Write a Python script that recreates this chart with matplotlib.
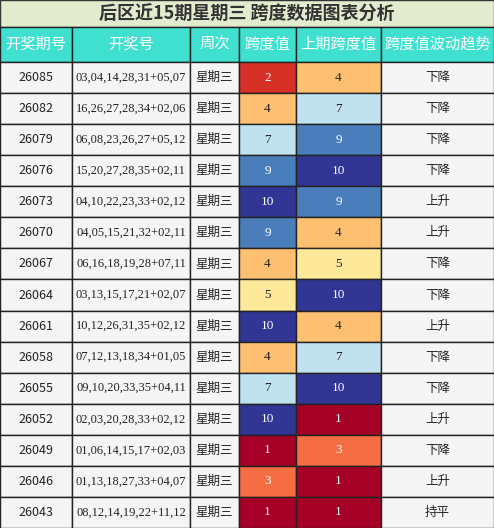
import matplotlib
matplotlib.use("Agg")
import matplotlib.pyplot as plt
from matplotlib.patches import Rectangle

plt.rcParams['font.family'] = ['Noto Sans CJK SC', 'DejaVu Sans']

periods = ["26085","26082","26079","26076","26073","26070","26067","26064","26061","26058","26055","26052","26049","26046","26043"]
draws = ["03,04,14,28,31+05,07","16,26,27,28,34+02,06","06,08,23,26,27+05,12","15,20,27,28,35+02,11",
         "04,10,22,23,33+02,12","04,05,15,21,32+02,11","06,16,18,19,28+07,11","03,13,15,17,21+02,07",
         "10,12,26,31,35+02,12","07,12,13,18,34+01,05","09,10,20,33,35+04,11","02,03,20,28,33+02,12",
         "01,06,14,15,17+02,03","01,13,18,27,33+04,07","08,12,14,19,22+11,12"]
weekday = ["星期三"] * 15
span = [2,4,7,9,10,9,4,5,10,4,7,10,1,3,1]
prev_span = [4,7,9,10,9,4,5,10,4,7,10,1,3,1,1]
trend = ["下降","下降","下降","下降","上升","上升","下降","下降","上升","下降","下降","上升","下降","上升","持平"]
headers = ["开奖期号","开奖号","周次","跨度值","上期跨度值","跨度值波动趋势"]
title = "后区近15期星期三 跨度数据图表分析"

cmap = {1:"#a50026",2:"#d73027",3:"#f46d43",4:"#fdc070",5:"#fee99a",7:"#c0e2ee",9:"#4a7ebb",10:"#313695"}
dark = {1,2,3,9,10}

W, H = 494, 528
fig = plt.figure(figsize=(W/100, H/100), dpi=100)
ax = fig.add_axes([0,0,1,1])
ax.set_xlim(0, W); ax.set_ylim(H, 0); ax.axis('off')

xs = [0,72,190,239,296,381,494]
title_h, head_top, head_bot = 27, 27, 62
row_h = (H - head_bot) / 15

ax.add_patch(Rectangle((0,0), W, title_h, fc="#e3ebcf", ec="#333333", lw=1))
ax.text(W/2, title_h/2+1, title, ha='center', va='center', fontsize=13, fontweight='bold', color="#333333")
for i,h in enumerate(headers):
    ax.add_patch(Rectangle((xs[i],head_top), xs[i+1]-xs[i], head_bot-head_top, fc="#40e0d0", ec="#222222", lw=1))
    ax.text((xs[i]+xs[i+1])/2, (head_top+head_bot)/2, h, ha='center', va='center', fontsize=11, color="white")

for r in range(15):
    y0 = head_bot + r*row_h
    vals = [periods[r], draws[r], weekday[r], str(span[r]), str(prev_span[r]), trend[r]]
    for c in range(6):
        fc = "#f5f5f5"; tc = "#222222"
        if c == 3:
            fc = cmap[span[r]]; tc = "white" if span[r] in dark else "#222222"
        elif c == 4:
            fc = cmap[prev_span[r]]; tc = "white" if prev_span[r] in dark else "#222222"
        ax.add_patch(Rectangle((xs[c],y0), xs[c+1]-xs[c], row_h, fc=fc, ec="#222222", lw=1))
        kw = dict(ha='center', va='center', color=tc, fontsize=9)
        if c in (1,3,4):
            kw['family'] = ['Liberation Serif', 'DejaVu Serif']
            kw['fontsize'] = 9 if c == 1 else 9.5
        ax.text((xs[c]+xs[c+1])/2, y0+row_h/2, vals[c], **kw)

fig.savefig("out.png", dpi=100)
